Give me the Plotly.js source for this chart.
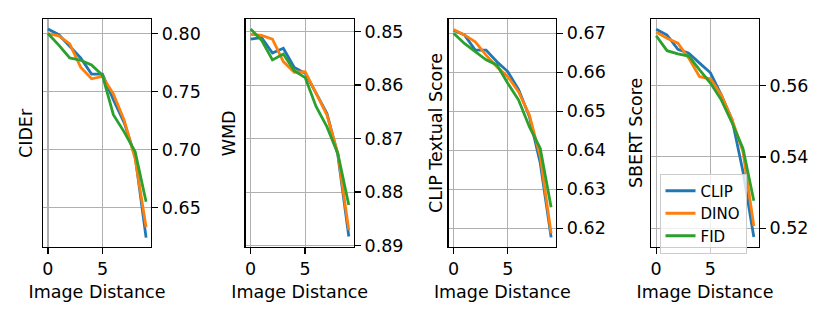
<!DOCTYPE html>
<html>
<head>
<meta charset="utf-8">
<script src="https://cdn.plot.ly/plotly-3.0.1.min.js"></script>
<style>
  body {margin:0; padding:0; background:#fff;}
  #plot {width:830px; height:320px;}
</style>
</head>
<body>
<div id="plot"></div>
<script>
//dane z wykresu - odleglosc obrazu 0..9
var dist = [0, 1, 2, 3, 4, 5, 6, 7, 8, 9];
var methods = ['CLIP', 'DINO', 'FID'];
var colors = ['#1f77b4', '#ff7f0e', '#2ca02c'];

var cider_clip = [0.804, 0.799, 0.789, 0.779, 0.765, 0.765, 0.743, 0.723, 0.694, 0.624];
var cider_dino = [0.800, 0.798, 0.791, 0.771, 0.761, 0.763, 0.748, 0.725, 0.692, 0.633];
var cider_fid  = [0.800, 0.790, 0.779, 0.777, 0.773, 0.764, 0.730, 0.715, 0.698, 0.655];

var wmd_clip = [0.8514, 0.8511, 0.8540, 0.8531, 0.8567, 0.8578, 0.8615, 0.8653, 0.8731, 0.8883];
var wmd_dino = [0.8505, 0.8507, 0.8514, 0.8556, 0.8576, 0.8575, 0.8615, 0.8656, 0.8728, 0.8871];
var wmd_fid  = [0.8495, 0.8516, 0.8553, 0.8542, 0.8573, 0.8586, 0.8640, 0.8678, 0.8728, 0.8824];

var cliptxt_clip = [0.6708, 0.6696, 0.6657, 0.6657, 0.6627, 0.6602, 0.6556, 0.6486, 0.6367, 0.6177];
var cliptxt_dino = [0.6710, 0.6696, 0.6678, 0.6644, 0.6614, 0.6589, 0.6550, 0.6490, 0.6384, 0.6187];
var cliptxt_fid  = [0.6700, 0.6674, 0.6653, 0.6632, 0.6619, 0.6572, 0.6529, 0.6460, 0.6405, 0.6254];

var sbert_clip = [0.5758, 0.5742, 0.5702, 0.5691, 0.5663, 0.5636, 0.5574, 0.5504, 0.5359, 0.5175];
var sbert_dino = [0.5750, 0.5733, 0.5719, 0.5677, 0.5625, 0.5619, 0.5574, 0.5504, 0.5415, 0.5206];
var sbert_fid  = [0.5740, 0.5698, 0.5689, 0.5683, 0.5644, 0.5607, 0.5560, 0.5495, 0.5424, 0.5277];

var xtitle = 'Image Distance';
var ytitles = ['CIDEr', 'WMD', 'CLIP Textual Score', 'SBERT Score'];

//panele: dane, zakres osi y, krok
var panels = [
  {series: [cider_clip, cider_dino, cider_fid], range: [0.6162, 0.8123], dtick: 0.05},
  {series: [wmd_clip, wmd_dino, wmd_fid], range: [0.8902, 0.8477], dtick: 0.01},
  {series: [cliptxt_clip, cliptxt_dino, cliptxt_fid], range: [0.6153, 0.6736], dtick: 0.01},
  {series: [sbert_clip, sbert_dino, sbert_fid], range: [0.5148, 0.5786], dtick: 0.02}
];

var W = 830, H = 320;
//pozycje paneli w pikselach
var xdom = [[43, 151], [245.7, 353.7], [448.7, 556], [651.3, 758.7]];
var ylabx = [26, 229.3, 436, 636];
var ydom = [(H - 246.7) / H, (H - 19.3) / H];

var font = 'DejaVu Sans, sans-serif';
var fsize = 17.5;
var data = [];
var layout = {
  width: W, height: H,
  margin: {l: 0, r: 0, t: 0, b: 0},
  paper_bgcolor: '#fff', plot_bgcolor: '#fff',
  font: {family: font, size: fsize, color: '#000'},
  showlegend: true,
  legend: {
    x: 659.5 / W, y: (H - 173.5) / H, xanchor: 'left', yanchor: 'top',
    bgcolor: 'rgba(255,255,255,0.8)', bordercolor: '#cccccc', borderwidth: 1,
    font: {family: font, size: 15, color: '#000'},
    itemwidth: 30, tracegroupgap: 0
  },
  annotations: []
};

for (let p = 0; p < panels.length; p++) {
  let n = p == 0 ? '' : String(p + 1);
  for (let m = 0; m < methods.length; m++) {
    data.push({
      x: dist, y: panels[p].series[m],
      xaxis: 'x' + n, yaxis: 'y' + n,
      mode: 'lines', name: methods[m],
      line: {color: colors[m], width: 2.8},
      showlegend: p == 3
    });
  }
  layout['xaxis' + n] = {
    domain: [xdom[p][0] / W, xdom[p][1] / W],
    anchor: 'y' + n,
    range: [-0.45, 9.45],
    tickvals: [0, 5],
    ticks: 'outside', ticklen: 6, tickwidth: 1.3, tickcolor: '#000',
    showline: true, mirror: true, linecolor: '#000', linewidth: 1.3,
    showgrid: true, gridcolor: '#b0b0b0', gridwidth: 1.2,
    zeroline: false,
    tickfont: {family: font, size: fsize},
    title: {text: xtitle, font: {family: font, size: fsize}, standoff: 7}
  };
  layout['yaxis' + n] = {
    domain: ydom,
    anchor: 'x' + n,
    side: 'right',
    range: panels[p].range,
    dtick: panels[p].dtick, tick0: 0,
    tickformat: '.2f',
    ticks: 'outside', ticklen: 6, tickwidth: 1.3, tickcolor: '#000',
    showline: true, mirror: true, linecolor: '#000', linewidth: 1.3,
    showgrid: true, gridcolor: '#b0b0b0', gridwidth: 1.2,
    zeroline: false,
    tickfont: {family: font, size: fsize}
  };
  //etykieta osi y po lewej stronie
  layout.annotations.push({
    text: ytitles[p], textangle: -90,
    xref: 'paper', yref: 'paper',
    x: ylabx[p] / W, y: (ydom[0] + ydom[1]) / 2,
    xanchor: 'center', yanchor: 'middle',
    showarrow: false,
    font: {family: font, size: fsize, color: '#000'}
  });
}

Plotly.newPlot('plot', data, layout, {displayModeBar: false, staticPlot: true});
</script>
</body>
</html>
